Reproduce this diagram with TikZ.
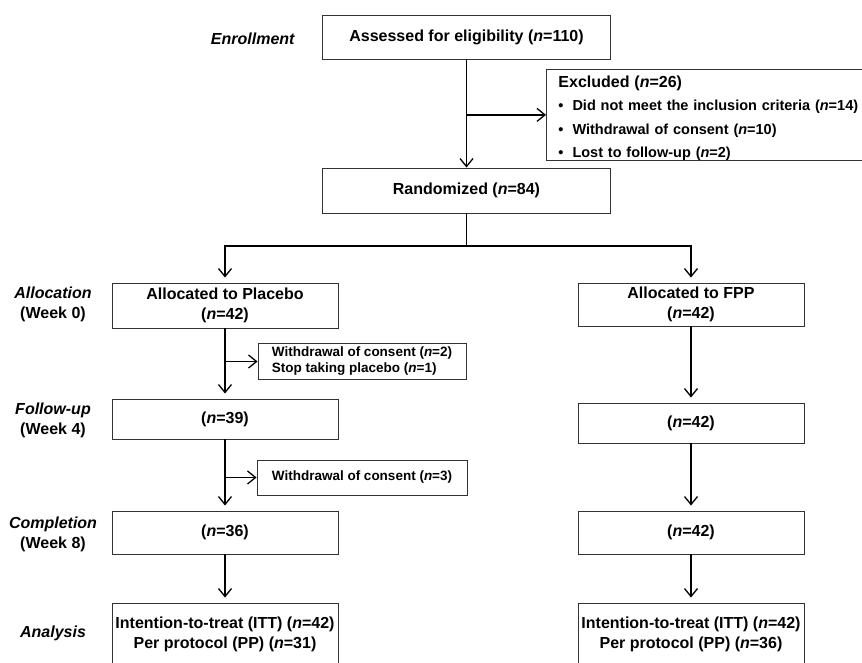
\documentclass[tikz,border=0pt]{standalone}
\usepackage{fontspec}
\setmainfont{Liberation Sans}
\usetikzlibrary{arrows.meta,positioning}
\tikzset{
  blk/.style={draw=black!80,rectangle,line width=0.9pt,minimum width=226pt,inner sep=1pt,align=center,font=\fontsize{16}{20}\selectfont\bfseries},
  topblk/.style={blk,minimum width=288pt,minimum height=44pt},
  exblk/.style={blk,anchor=north west,align=left,text width=310pt,inner xsep=12pt,inner ysep=0pt,minimum height=90pt,font=\fontsize{14.5}{23.3}\selectfont\bfseries},
  wdblk/.style={blk,minimum width=208pt,minimum height=36pt,align=left,font=\fontsize{13.5}{16}\selectfont\bfseries},
  lin/.style={line width=1.3pt},
  arr/.style={lin,-{Straight Barb[length=8pt,width=13pt]}},
  gaparr/.style={arr,shorten >=5pt},
  lbl/.style={font=\fontsize{16}{20}\selectfont\bfseries,align=center}
}

\begin{document}
\begin{tikzpicture}[x=1pt,y=-1pt]
  \useasboundingbox (0,0) rectangle (862,663);

  % Enrollment
  \node[lbl] (enrl) at (253,39) {\textit{Enrollment}};
  \node[topblk] (assess) at (466.5,37) {Assessed for eligibility (\textit{n}=110)};
  \node[exblk] (excl) at (546,69) {\rule{0pt}{18pt}{\fontsize{16}{23.3}\selectfont Excluded (\textit{n}=26)}\\
    \textbullet\hspace{9pt}Did not meet the inclusion criteria (\textit{n}=14)\\
    \textbullet\hspace{9pt}Withdrawal of consent (\textit{n}=10)\\
    \textbullet\hspace{9pt}Lost to follow-up (\textit{n}=2)};
  \node[topblk,minimum height=45pt] (rand) at (466.5,190.5) {Randomized (\textit{n}=84)};
  \coordinate (split) at (466.5,246);

  \draw[arr] (assess.south) -- (rand.north);
  \draw[arr] (assess.south |- excl.west) -- (excl.west);
  \draw[lin] (rand.south) -- (split);

  % Stage labels
  \node[lbl] (alloc) at (53,304) {\textit{Allocation}\\(Week 0)};
  \node[lbl] (folup) at (53,420) {\textit{Follow-up}\\(Week 4)};
  \node[lbl] (compl) at (53,534.5) {\textit{Completion}\\(Week 8)};
  \node[lbl] (anlys) at (53,633) {\textit{Analysis}};

  % Placebo arm
  \node[blk,minimum height=45pt] (plac) at (225,305.5) {Allocated to Placebo\\(\textit{n}=42)};
  \node[wdblk] (wd1) at (362,361.5) {Withdrawal of consent (\textit{n}=2)\\Stop taking placebo (\textit{n}=1)};
  \node[blk,minimum height=40pt] (fu1) at (225,419) {(\textit{n}=39)};
  \node[wdblk,minimum width=210pt,minimum height=35pt] (wd2) at (362,477.5) {Withdrawal of consent (\textit{n}=3)};
  \node[blk,minimum height=43pt] (comp1) at (225,532.5) {(\textit{n}=36)};
  \node[blk,minimum height=63pt] (an1) at (225,634.5) {Intention-to-treat (ITT) (\textit{n}=42)\\Per protocol (PP) (\textit{n}=31)};

  % FPP arm
  \node[blk,minimum height=43pt] (fpp) at (691,304.5) {Allocated to FPP\\(\textit{n}=42)};
  \node[blk,minimum height=40pt] (fu2) at (691,423) {(\textit{n}=42)};
  \node[blk,minimum height=43pt] (comp2) at (691,532.5) {(\textit{n}=42)};
  \node[blk,minimum height=63pt] (an2) at (691,634.5) {Intention-to-treat (ITT) (\textit{n}=42)\\Per protocol (PP) (\textit{n}=36)};

  % Connections
  \draw[gaparr] (split) -| (plac.north);
  \draw[gaparr] (split) -| (fpp.north);
  \draw[gaparr] (plac) -- (fu1);
  \draw[arr] (plac.south |- wd1.west) -- (wd1.west);
  \draw[gaparr] (fu1) -- (comp1);
  \draw[arr] (fu1.south |- wd2.west) -- (wd2.west);
  \draw[gaparr] (comp1) -- (an1);
  \draw[gaparr] (fpp) -- (fu2);
  \draw[gaparr] (fu2) -- (comp2);
  \draw[gaparr] (comp2) -- (an2);

\end{tikzpicture}
\end{document}
